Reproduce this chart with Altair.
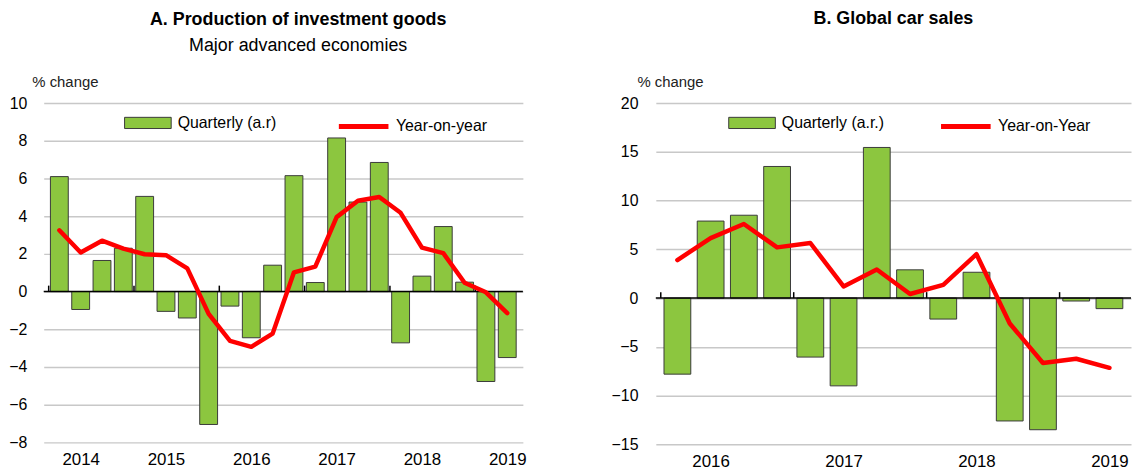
import altair as alt
import pandas as pd

FONT = "Liberation Sans"
GREEN = "#8cc63f"
BAR_EDGE = "#3a3a3a"
RED = "#ff0000"

# ---------------- Panel A: Production of investment goods ----------------
a_years = [2014] * 4 + [2015] * 4 + [2016] * 4 + [2017] * 4 + [2018] * 4 + [2019] * 2
a_quarters = ["Q1", "Q2", "Q3", "Q4"] * 5 + ["Q1", "Q2"]
a_quarterly = [6.1, -0.95, 1.65, 2.3, 5.05, -1.05, -1.4, -7.05,
               -0.77, -2.45, 1.4, 6.15, 0.48, 8.15, 4.75, 6.85,
               -2.72, 0.82, 3.45, 0.5, -4.77, -3.5]
a_yoy = [3.25, 2.07, 2.7, 2.28, 1.98, 1.93, 1.23, -1.18,
         -2.61, -2.93, -2.23, 1.02, 1.32, 3.95, 4.82, 5.02,
         4.18, 2.33, 2.04, 0.47, -0.04, -1.14]
a_yticks = [-8, -6, -4, -2, 0, 2, 4, 6, 8, 10]
a_bar_name = "Quarterly (a.r)"
a_line_name = "Year-on-year"

# ---------------- Panel B: Global car sales ----------------
b_years = [2016] * 4 + [2017] * 4 + [2018] * 4 + [2019] * 2
b_quarters = ["Q1", "Q2", "Q3", "Q4"] * 3 + ["Q1", "Q2"]
b_quarterly = [-7.8, 7.9, 8.5, 13.5, -6.05, -9.0, 15.45, 2.9,
               -2.15, 2.65, -12.6, -13.5, -0.3, -1.08]
b_yoy = [3.9, 6.15, 7.6, 5.2, 5.65, 1.2, 2.93, 0.42,
         1.35, 4.5, -2.6, -6.65, -6.22, -7.15]
b_yticks = [-15, -10, -5, 0, 5, 10, 15, 20]
b_bar_name = "Quarterly (a.r.)"
b_line_name = "Year-on-Year"


def panel(years, quarters, quarterly, yoy, bar_name, line_name, yticks,
          width, height, bar_w, title, subtitle, title_offset, title_dx,
          leg_bar_x, leg_line_x, axis_title_x, label_pad):
    n = len(quarterly)
    df = pd.DataFrame({
        "idx": list(range(n)),
        "year": years,
        "quarter": quarters,
        "quarterly": quarterly,
        "yoy": yoy,
    })
    df["pos"] = df["idx"] + 0.5
    df["bar_series"] = bar_name
    df["line_series"] = line_name
    first_year = years[0]
    label_pos = [i + 0.5 for i, q in enumerate(quarters) if q == "Q2"]
    bounds = pd.DataFrame({"b": [i for i, q in enumerate(quarters) if q == "Q1"]})
    zero_df = pd.DataFrame({"zero": [0]})

    xscale = alt.Scale(domain=[0, n], nice=False, zero=False)
    yscale = alt.Scale(domain=[min(yticks), max(yticks)], nice=False)
    xaxis = alt.Axis(values=label_pos,
                     labelExpr=f"toString({first_year} + floor(datum.value / 4))",
                     domain=False, ticks=False, grid=False, labelFlush=False,
                     labelFontSize=17, labelFont=FONT, labelColor="#000",
                     labelPadding=9, title=None)
    yaxis = alt.Axis(values=yticks, grid=True, gridColor="#c8c8c8", gridWidth=1.5,
                     domain=False, ticks=False, labelFlush=False,
                     labelFontSize=16, labelFont=FONT, labelColor="#000",
                     labelPadding=label_pad,
                     title="% change", titleAngle=0, titleAlign="left",
                     titleBaseline="middle", titleX=axis_title_x, titleY=-22,
                     titleFontSize=15, titleFont=FONT, titleFontWeight="normal",
                     titleColor="#222")

    def X(field):
        return alt.X(field, scale=xscale, axis=xaxis)

    def Y(field):
        return alt.Y(field, scale=yscale, axis=yaxis)

    bars = alt.Chart(df).mark_bar(size=bar_w, stroke=BAR_EDGE, strokeWidth=1).encode(
        x=X("pos:Q"),
        y=Y("quarterly:Q"),
        fill=alt.Fill("bar_series:N",
                      scale=alt.Scale(domain=[bar_name], range=[GREEN]),
                      legend=alt.Legend(title=None, orient="none",
                                        legendX=leg_bar_x, legendY=-4,
                                        symbolType="M-1,-0.24H1V0.24H-1Z",
                                        symbolSize=47 * 47,
                                        symbolStrokeColor=BAR_EDGE,
                                        symbolStrokeWidth=1,
                                        symbolOpacity=1,
                                        labelFontSize=16, labelFont=FONT,
                                        labelColor="#000", labelOffset=6,
                                        padding=0)),
    )
    zero = alt.Chart(zero_df).mark_rule(color="#000", strokeWidth=1.5).encode(
        y=Y("zero:Q"))
    ticks = alt.Chart(bounds).mark_tick(orient="vertical", size=6, thickness=1.5,
                                        color="#000", yOffset=-3, opacity=1).encode(
        x=X("b:Q"), y=Y("b0:Q")
    ).transform_calculate(b0="0")
    line = alt.Chart(df).mark_line(strokeWidth=4.5, strokeJoin="round",
                                   strokeCap="round").encode(
        x=X("pos:Q"),
        y=Y("yoy:Q"),
        stroke=alt.Stroke("line_series:N",
                          scale=alt.Scale(domain=[line_name], range=[RED]),
                          legend=alt.Legend(title=None, orient="none",
                                            legendX=leg_line_x, legendY=-4,
                                            symbolType="stroke", symbolSize=2500,
                                            symbolStrokeWidth=5,
                                            labelFontSize=16, labelFont=FONT,
                                            labelColor="#000", labelOffset=5,
                                            padding=0)),
    )
    tp = dict(text=title, fontSize=18, font=FONT, fontWeight="bold", color="#000",
              anchor="middle", offset=title_offset, dx=title_dx)
    if subtitle:
        tp.update(subtitle=subtitle, subtitleFontSize=18, subtitleFont=FONT,
                  subtitleFontWeight="normal", subtitleColor="#000",
                  subtitlePadding=8)
    return alt.layer(bars, zero, ticks, line).properties(
        width=width, height=height, title=alt.TitleParams(**tp))


left = panel(a_years, a_quarters, a_quarterly, a_yoy, a_bar_name, a_line_name,
             a_yticks, width=483, height=342, bar_w=18,
             title="A. Production of investment goods",
             subtitle="Major advanced economies", title_offset=20, title_dx=15,
             leg_bar_x=81, leg_line_x=295, axis_title_x=-12, label_pad=17)
right = panel(b_years, b_quarters, b_quarterly, b_yoy, b_bar_name, b_line_name,
              b_yticks, width=479, height=344, bar_w=27,
              title="B. Global car sales", subtitle=None, title_offset=47,
              title_dx=0, leg_bar_x=73, leg_line_x=285, axis_title_x=-19,
              label_pad=18)

chart = alt.hconcat(left, right, spacing=84).resolve_scale(
    x="independent", y="independent", fill="independent", stroke="independent"
).resolve_legend(fill="independent", stroke="independent").configure_view(
    stroke=None
).properties(padding=0, background="white")

chart.save("out.html", embed_options={"renderer": "svg", "actions": False})
